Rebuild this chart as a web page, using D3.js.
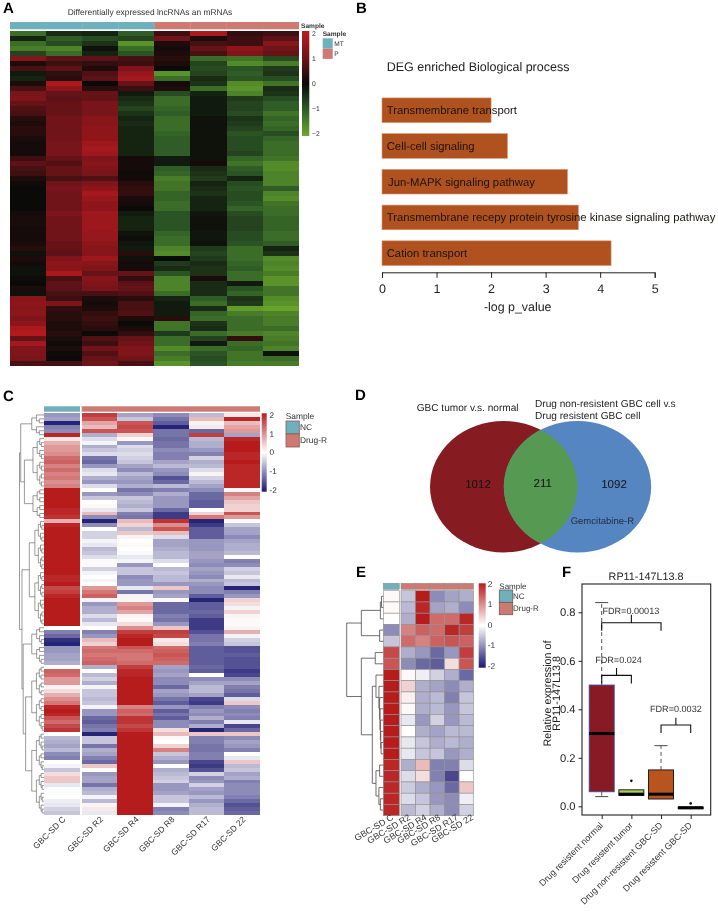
<!DOCTYPE html>
<html><head><meta charset="utf-8"><title>Chart</title>
<style>html,body{margin:0;padding:0;background:#fff}svg{display:block;filter:blur(0.3px)}text{font-family:"Liberation Sans",Arial,sans-serif;text-rendering:geometricPrecision}</style>
<script src="https://cdn.jsdelivr.net/npm/d3@7"></script></head><body>
<svg id="c" width="718" height="911"></svg>
<script>
// ---------- Panel A ----------
const heatA = [
[-1.2,-0.4,-0.3,-1.0,0.5,1.8,0.4,0.5],[-0.3,-1.0,-0.8,-0.7,1.0,0.2,0.5,0.8],[-1.2,-0.8,-0.5,-1.7,0.2,0.6,0.5,1.3],[-1.4,-1.5,-0.1,-1.2,0.1,0.9,1.4,1.0],[-0.7,-1.2,-0.3,-0.9,0.2,0.6,1.2,0.9],
[1.3,0.8,0.8,0.6,0.3,-1.2,-1.3,-0.8],[0.2,0.5,0.4,0.5,0.2,-0.7,-1.6,-1.4],[0.6,0.8,0.2,1.2,0.0,-0.8,-0.9,-0.6],[-0.2,0.4,0.7,1.5,-1.7,-0.7,-1.0,-0.5],[-0.3,0.3,0.8,1.7,-1.2,-0.4,-0.9,-0.8],
[0.2,1.8,0,0.9,0.1,-0.5,-1.6,-1.3],[0.6,1.4,0.3,0.5,0.2,-1.2,-1.7,-0.4],[1.1,0.9,0.9,-0.2,-0.8,-0.3,-1.5,-0.5],[1.2,0.8,0.9,-0.4,-1.2,-0.2,-0.6,-0.8],[0.9,0.9,1.1,-0.5,-1.2,-0.2,-0.7,-1.0],
[0.7,0.9,1.1,-0.7,-1.1,-0.2,-0.7,-1.0],[0.6,0.9,1.1,-0.5,-1.0,-0.2,-0.8,-1.3],[0.3,1.0,1.3,-0.3,-1.2,-0.1,-0.5,-1.1],[0.2,1.0,1.3,-0.4,-1.2,-0.1,-0.6,-1.2],[0.3,1.0,1.4,-0.3,-1.2,-0.1,-0.7,-1.1],
[0.3,1.0,1.4,-0.3,-1.1,-0.1,-0.9,-0.8],[0.15,1.0,1.4,-0.3,-1.0,-0.1,-0.8,-1.1],[0.1,1.1,1.6,-0.3,-1.0,-0.1,-0.8,-1.2],[0.1,1.1,1.7,-0.3,-1.0,-0.1,-0.8,-1.2],[0.1,1.1,1.6,-0.3,-1.0,-0.1,-0.7,-1.2],
[0.5,0.9,1.2,0.1,-0.2,-0.1,-1.1,-1.3],[0.8,0.7,1.3,0.1,-0.2,0.1,-1.3,-1.6],[0.6,0.9,1.2,0.1,-1.0,-0.4,-1.0,-1.6],[0.5,0.9,1.1,0.05,-1.1,-0.5,-0.9,-1.5],[0.2,0.6,0.7,0.1,-1.4,-0.6,-0.3,-1.5],
[0.05,1.0,1.2,0.3,-1.3,-0.3,-0.8,-1.5],[0.0,1.1,1.4,0.4,-1.3,-0.4,-0.9,-1.0],[0.0,1.0,1.7,0.4,-1.1,-0.5,-0.8,-1.5],[0.0,1.0,1.5,0.15,-1.1,-0.3,-0.8,-1.6],[0.0,1.0,1.4,0.1,-1.2,-0.3,-0.9,-1.3],
[0.0,1.0,1.4,0.0,-1.2,-0.3,-1.1,-1.2],[0.1,1.2,1.6,-0.2,-0.9,-0.15,-0.8,-1.2],[0.15,1.0,1.6,-0.3,-0.9,-0.1,-0.7,-1.1],[0.15,1.0,1.6,-0.3,-0.9,-0.1,-0.7,-1.1],[0.1,1.0,1.6,-0.3,-0.9,-0.1,-0.7,-1.1],
[0.1,1.0,1.5,-0.1,-1.1,-0.15,-0.8,-1.2],[0.1,1.0,1.5,-0.05,-1.2,-0.15,-0.8,-1.2],[0.15,0.9,1.4,-0.15,-1.2,-0.1,-0.9,-1.0],[0.3,0.9,1.3,-0.2,-1.5,-0.6,-1.2,-0.3],[-0.1,0.8,1.3,0.3,-1.6,-0.7,-1.2,-0.5],
[0.2,1.2,1.6,-0.1,0.0,-0.6,-1.2,-1.6],[0.1,1.4,1.3,0.1,-0.6,-0.4,-1.1,-1.5],[-0.1,1.3,1.2,0.1,-0.4,-0.5,-1.0,-1.6],[-0.1,1.8,0.9,0.9,-0.9,-0.5,-1.2,-1.4],[0.05,0.6,1.3,0.4,-1.5,0.15,-1.2,-1.7],
[0.0,0.8,1.2,0.8,-1.5,-0.4,-0.2,-1.7],[0.15,0.8,1.1,0.9,-1.5,-0.4,-0.9,-1.3],[-0.1,0.6,0.6,0.7,-1.2,-0.4,-1.1,-1.3],[1.3,0.5,0.2,0.3,-0.3,-1.0,-0.5,-1.6],[1.4,1.2,0.1,0.6,-0.2,-1.2,-0.6,-1.7],
[1.3,0.4,0.2,0.6,-0.2,-0.4,-1.8,-1.9],[1.4,0.3,0.4,0.7,-0.2,-1.1,-1.4,-1.5],[1.2,0.3,0.5,0.2,0.3,-1.2,-1.2,-1.4],[1.4,0.2,0.4,0.0,-1.3,-0.5,-1.2,-1.4],[1.8,0.2,0.3,0.15,-1.3,-0.4,-1.2,-1.2],
[1.9,0.3,0.0,0.4,-0.6,-1.2,-1.4,-1.5],[0.9,0.15,0.7,0.9,-1.2,-0.7,0.4,-1.4],[1.7,0.05,0.5,1.0,-1.2,-0.2,-1.2,-1.3],[1.2,0.15,1.0,1.2,-1.6,-1.2,-1.1,-1.5],[1.2,0.05,0.7,1.2,-1.2,-0.9,-1.3,-0.1],
[1.1,0.0,0.9,1.0,-1.4,-0.8,-1.3,-1.2],[0.6,0.6,1.0,0.6,-1.7,-0.9,-1.4,-1.4]];
const groupsA = ["MT","MT","MT","MT","P","P","P","P"];
const titleA = "Differentially expressed lncRNAs an mRNAs";
const legendTicksA = [2,1,0,-1,-2];

// ---------- Panel B ----------
const termsB = ["Transmembrane transport","Cell-cell signaling","Jun-MAPK signaling pathway","Transmembrane recepy protein tyrosine kinase signaling pathway","Cation transport"];
const valuesB = [2.0,2.3,3.4,3.6,4.2];

// ---------- Panel C ----------
const samplesC = ["GBC-SD C","GBC-SD R2","GBC-SD R4","GBC-SD R8","GBC-SD R17","GBC-SD 22"];
const heatC = [
[-0.9,1.7,-0.8,-1.0,-0.6,0.2],[-0.8,1.5,-0.5,-1.2,0.6,1.9],[-1.9,0.8,1.5,-1.4,-0.1,0.6],[-1.1,0.6,1.6,-1.9,0.2,0.8],[-1.0,1.5,1.5,-1.2,-1.3,0.9],[1.9,-0.7,0.4,-1.2,1.7,-0.8],
[0.2,-0.3,0.05,-1.3,-0.6,1.9],[0.7,-0.1,-0.9,-1.2,-0.7,2],[0.9,-0.7,-0.3,-1.2,-0.7,2],[0.9,-0.5,-0.4,-1.0,-0.9,2],[1.0,-0.3,-0.3,-1.1,-1.1,1.9],[1.3,-1.2,-0.4,-1.1,-0.4,1.9],[1.4,-1.3,-0.5,-0.8,-0.7,2],[1.1,-0.9,-0.8,-0.6,-0.6,1.9],[1.3,-0.3,-1.0,-0.9,-0.3,1.9],[1.1,-0.2,-0.6,-1.0,0.1,1.9],[1.2,-0.7,-0.8,-1.5,-0.4,1.9],[1.0,-0.9,-0.9,-1.3,-0.6,1.9],[1.1,-0.3,-0.7,-0.6,-0.8,1.9],
[2,0.0,-1.2,-1.1,-1.0,0.05],[2,-0.9,-1.0,-0.7,-1.3,1.1],[2,-0.5,-0.5,-0.9,-1.3,0.8],[2,0.0,-0.6,-0.9,-1.4,0.5],[2,0.05,-0.7,-0.9,-1.4,0.4],[1.9,-0.2,-0.5,-1.3,0.0,0.4],[1.9,0.6,-1.1,-1.7,0.4,1.5],[1.8,-1.0,-1.2,-1.7,1.2,0.9],
[0.7,-1.9,0.6,1.8,-1.9,0.0],[1.9,-1.0,0.4,1.0,-1.7,-0.5],[2,0.0,-0.6,1.5,-1.4,-0.8],[2,-0.4,0.5,0.6,-1.4,-0.8],[2,-0.4,0.1,-0.3,-1.4,-1.0],[2,-0.1,0.0,-0.8,-0.9,-0.8],[2,-0.2,0.05,-0.8,-0.9,-0.7],[2,-0.6,0.0,-0.7,-0.9,-0.7],[2,-0.5,-0.05,-0.6,-0.8,-0.6],[2,-0.3,-0.2,-0.6,-0.8,0.0],[2,0.05,-0.1,-0.3,-0.9,-1.1],[2,-0.05,-0.9,0.0,-1.0,-1.0],[2,-0.4,-0.5,-0.6,-0.8,-0.4],[2,-0.1,-0.5,-0.5,-0.9,-0.5],[1.9,0.0,-1.0,-0.6,-1.0,-0.2],[1.9,-0.1,-0.9,-0.6,-0.7,-0.6],[2,0.0,-0.9,-0.9,-0.9,-0.5],[1.6,0.9,-0.2,0.5,-1.0,-1.9],[1.7,1.2,-1.2,-0.9,-1.0,-1.1],[1.9,1.4,-0.1,-0.8,-1.4,-0.9],[2,-0.1,0.1,0.05,-1.9,0.4],[2,-0.9,0.9,-1.3,-1.4,0.3],[2,-0.7,1.1,-1.3,-1.4,-0.1],[2,-0.7,0.8,-1.3,-1.3,0.4],[2,-0.3,0.1,-1.1,-1.4,0.1],[2,-0.6,0.05,-1.2,-1.7,0.05],[2,-0.2,0.3,-0.9,-1.7,0.05],
[0.0,0.0,1.0,0.5,-1.7,0.1],[-1.1,-1.1,1.7,1.7,-1.5,0.7],[-1.3,-0.9,1.9,1.6,-1.2,-0.1],[-1.8,0.6,2,0.2,-1.2,-0.4],[-1.9,0.4,2,0.3,-1.1,-0.5],
[-0.9,1.2,1.5,1.3,-1.4,-1.5],[-0.9,1.3,1.3,1.4,-1.4,-1.5],[-0.8,1.2,1.2,1.5,-1.4,-1.4],[-0.8,1.3,1.2,1.4,-1.4,-1.5],[-0.7,1.4,1.3,1.3,-1.4,-1.5],
[0.0,-0.7,1.7,-0.8,-1.3,-1.5],[1.4,0.0,1.9,-0.9,-1.4,-1.7],[1.3,-0.6,1.9,-0.8,0.0,-1.6],[0.9,-0.4,2,-1.0,-1.0,-1.0],[0.9,-0.7,2,-1.0,-0.8,-0.8],[0.1,-0.1,2,-1.3,-0.6,-1.1],[0.3,-0.5,2,-0.8,-0.6,-1.2],[0.7,-0.5,2,-0.9,-0.8,-1.4],[1.0,-0.6,2,-1.2,-1.6,-0.3],[1.2,-0.5,2,-1.4,-1.7,0.5],[1.9,-0.1,1.1,-0.9,-1.1,-1.0],[2,-0.9,1.4,-1.4,-0.9,-1.1],[1.9,-0.9,1.3,-1.2,-1.0,-1.0],[1.5,-1.3,1.8,-1.4,-0.7,-1.1],[1.3,-1.4,1.8,-1.0,-1.1,-0.2],[1.6,-1.2,1.6,-1.0,-0.7,-1.6],[1.8,-1.1,1.8,0.3,-1.9,-1.3],
[0.0,-1.9,2,0.6,0.5,0.5],[-0.6,-0.5,2,0.05,-1.1,-1.0],[-0.7,-0.5,2,0.0,-1.1,-0.8],[-0.8,-1.2,2,0.4,-1.2,-0.9],[-0.6,-0.7,2,1.1,-1.2,-1.1],[-1.0,-0.8,2,-0.5,-1.1,0.0],[-1.1,-1.1,2,-0.7,-1.1,-0.2],[0.0,-1.3,2,-0.9,-1.6,0.5],[-0.1,0.5,2,0.0,-1.7,-0.6],[-0.5,0.0,2,-0.7,-1.5,-0.5],[0.3,-0.9,2,-0.6,-0.4,-0.8],[0.5,-0.8,2,-0.5,-1.0,-0.7],[0.5,-0.8,2,-0.4,-0.9,-1.1],[-0.2,-1.2,2,-0.9,-0.4,-1.0],[-0.03,-0.7,2,-0.9,-0.8,-1.0],[-0.03,-0.6,2,-0.8,-0.9,-1.0],[0.0,-0.1,2,-0.5,-0.6,-1.1],[-0.15,-0.6,2,-0.5,-0.9,-1.3],[-0.2,0.1,2,-0.1,-0.7,-1.5],[-0.4,0.2,2,-1.1,-0.6,-1.4],[-0.5,-0.2,2,-1.0,-0.6,-1.3]];
// merge tree: [height, child, child]; a bare number n is a cluster of n leaves
const treeC = [1,
  [0.95,[0.5,6],[0.8,[0.45,13],[0.45,8]]],
  [0.9,[0.6,27],[0.85,[0.5,[0.3,5],[0.3,5]],[0.75,[0.5,17],[0.5,21]]]]];
const legendTicksC = [2,1,0,-1,-2];

// ---------- Panel D ----------
const vennSets = ["GBC tumor v.s. normal","Drug non-resistent GBC cell v.s","Drug resistent GBC cell"];
const vennCounts = [1012,211,1092];

// ---------- Panel E ----------
const heatE = [
[0.05,-0.5,2,-1.0,-0.8,-0.7],[0.05,-0.6,1.9,-0.8,-0.7,-1.0],[0.02,-0.7,2,1.3,1.3,1.9],[-1.0,1.1,1.4,1.3,1.9,1.7],[-0.5,1.3,1.1,1.4,1.5,1.4],
[1.6,-0.7,-0.9,-1.3,-0.9,1.7],[1.5,-1.0,-1.3,-1.4,0.3,1.5],[2,0.05,-0.15,-0.4,-0.7,-1.3],[2,0.4,-0.7,-0.8,-1.0,-0.7],[2,0.15,-0.7,-0.6,-1.1,-0.5],
[2,0.05,-0.7,-0.6,-0.9,-0.5],[2,-0.2,-0.9,-0.4,-0.9,-0.6],[2,0.0,-0.7,-0.8,-0.6,-0.6],[2,-0.2,-0.5,-0.7,-0.6,-0.7],[2,-0.2,-0.5,-0.5,-0.9,-0.7],
[1.9,-0.7,0.6,-1.1,-1.1,-0.3],[1.9,-0.3,0.3,-1.1,-1.6,0.02],[1.9,-0.45,-0.7,-0.9,-1.3,0.5],[1.9,-0.3,-0.5,-0.9,-1.0,-0.15],[1.9,-0.6,-0.4,-0.7,-1.0,-0.4]];
const treeE = [1,
  [0.6,[0.08,[0.05,0,1],2],[0.1,3,4]],
  [0.6,[0.22,5,6],[0.3,[0.2,7,[0.12,8,[0.1,9,[0.09,10,[0.08,11,[0.07,12,[0.06,13,14]]]]]]],[0.2,[0.1,15,16],[0.12,17,[0.08,18,19]]]]]];
const legendTicksE = [2,1,0,-1,-2];

// ---------- Panel F ----------
const boxCats = ["Drug resistent normal","Drug resistent tumor","Drug non-resistent GBC-SD","Drug resistent GBC-SD"];
const boxMin = [0.04,0.045,0.03,-0.012];
const boxQ1 = [0.06,0.045,0.03,-0.01];
const boxMed = [0.30,0.05,0.05,-0.006];
const boxQ3 = [0.50,0.068,0.15,-0.003];
const boxMax = [0.84,0.068,0.25,-0.002];
const boxOut = [null,0.105,null,0.012];
const boxFill = ["#871a24","#a6d25a","#b9541f","#222222"];
const boxStroke = ["#3c4c9c","#111111","#111111","#111111"];
const fdrLabels = ["FDR=0.00013","FDR=0.024","FDR=0.0032"];
const fdrFrom = [0,0,2], fdrTo = [2,1,3], fdrValue = [0.757,0.54,0.335], fdrDrop = [0.033,0.034,0.033], fdrStem = [0.033,0.03,0.03], fdrText=[0.808,0.605,0.40];

// ---------- drawing ----------
const svg = d3.select("#c");
const teal = "#6fb0bd", rose = "#cd7a72";
const greenRed = d3.scaleLinear().domain([-2,-1,0,1,2]).range(["#6dab2b","#2f5c27","#0a0a08","#701419","#bb1a1e"]).clamp(true);
const blueRed = d3.scaleLinear().domain([-2,0,2]).range(["#1b1870","#ffffff","#b71c1c"]).clamp(true);

function label(txt,x,y){svg.append("text").attr("x",x).attr("y",y).attr("font-size",15).attr("font-weight","bold").attr("fill","#000").text(txt);}
[["A",3,13],["B",356,13],["C",3,401],["D",355,400],["E",356,577],["F",562,577]].forEach(d=>label(...d));

let gradId=0;
function colorbar(color,ticks,x,w,y0,y1,scaleRange,fs,lx,minus){
  const y=d3.scaleLinear().domain([-2,2]).range(scaleRange);
  const id="g"+(gradId++);
  const g=svg.append("defs").append("linearGradient").attr("id",id).attr("x1",0).attr("x2",0).attr("y1",1).attr("y2",0);
  d3.range(0,21).forEach(i=>{const v=-2+i/5;g.append("stop").attr("offset",i/20).attr("stop-color",color(v));});
  svg.append("rect").attr("x",x).attr("y",y0).attr("width",w).attr("height",y1-y0).attr("fill",`url(#${id})`);
  svg.append("g").selectAll("text").data(ticks).join("text").attr("x",lx).attr("y",d=>y(d)).attr("dy","0.35em").attr("font-size",fs).attr("fill","#333")
    .text(d=>d<0&&minus?"\u2212"+(-d):d);
}
function legend(title,names,colors,tx,ty,sx,sy,sw,sh,lx,fs,bold,stroke){
  svg.append("text").attr("x",tx).attr("y",ty).attr("dy","0.35em").attr("font-size",fs).attr("font-weight",bold?"bold":"normal").attr("fill","#333").text(title);
  names.forEach((n,i)=>{
    svg.append("rect").attr("x",sx).attr("y",sy+i*sh).attr("width",sw).attr("height",sh).attr("fill",colors[i]).attr("stroke",stroke||"none").attr("stroke-width",stroke?0.8:0);
    svg.append("text").attr("x",lx).attr("y",sy+i*sh+sh/2).attr("dy","0.35em").attr("font-size",fs).attr("fill","#333").text(n);
  });
}
function heat(data,xs,widths,y,color){
  const g=svg.append("g").attr("shape-rendering","crispEdges");
  data.forEach((row,i)=>row.forEach((v,j)=>{
    g.append("rect").attr("x",xs[j]).attr("y",y(i)).attr("width",widths[j]).attr("height",y.bandwidth()+0.4).attr("fill",color(v));
  }));
}
function expand(n,h){ // a cluster of n leaves as a balanced merge
  if(n===1) return {leaf:true};
  const a=Math.floor(n/2);
  return {h,children:[expand(a,h*0.62),expand(n-a,h*0.62)]};
}
function toNode(t){
  if(typeof t==="number") return {leaf:true,id:t};
  const h=t[0];
  if(t.length===2 && typeof t[1]==="number") return expand(t[1],h);
  return {h,children:t.slice(1).map(toNode)};
}
function dendro(tree,leafCount,yBand,xOf,color,width){
  const root=d3.hierarchy(toNode(tree));
  let k=0;
  root.eachAfter(n=>{
    if(!n.children){n.py=yBand(k++);n.px=xOf(0);}
    else{n.py=d3.mean(n.children,c=>c.py);n.px=xOf(n.data.h);}
  });
  const line=svg.append("g").attr("fill","none").attr("stroke",color).attr("stroke-width",width);
  root.each(n=>{
    if(!n.children)return;
    const y0=n.children[0].py,y1=n.children[n.children.length-1].py;
    line.append("path").attr("d",`M${n.children[0].px},${y0}H${n.px}V${y1}H${n.children[n.children.length-1].px}`);
  });
}

// A
{
  const x=d3.scaleBand().domain(d3.range(8)).range([10,298.7]);
  const y=d3.scaleBand().domain(d3.range(heatA.length)).range([31,366]);
  svg.append("text").attr("x",150).attr("y",14.5).attr("text-anchor","middle").attr("font-size",8.4).attr("fill","#333").text(titleA);
  groupsA.forEach((g,i)=>svg.append("rect").attr("x",x(i)).attr("y",22).attr("width",x.bandwidth()+.3).attr("height",7.3).attr("fill",g==="MT"?teal:rose));
  heat(heatA,x.domain().map(x),x.domain().map(()=>x.bandwidth()+.3),y,greenRed);
  svg.append("text").attr("x",301).attr("y",28).attr("font-size",6.6).attr("font-weight","bold").attr("fill","#333").text("Sample");
  colorbar(greenRed,legendTicksA,302,7.3,31,136,[134,33.3],6.8,312,true);
  legend("Sample",["MT","P"],[teal,rose],322.7,33.7,322.7,38.3,10,10.3,334.3,6.6,true);
}
// B
{
  const x=d3.scaleLinear().domain([0,5]).range([382,654.7]);
  const y=d3.scaleBand().domain(termsB).range([92.2,271.2]).paddingInner(0.31).paddingOuter(0.16);
  svg.append("text").attr("x",386.7).attr("y",71).attr("font-size",12.5).attr("fill","#222").text("DEG enriched Biological process");
  svg.append("g").selectAll("rect").data(termsB).join("rect").attr("x",x(0)).attr("y",d=>y(d)).attr("width",(d,i)=>x(valuesB[i])-x(0)).attr("height",y.bandwidth())
    .attr("fill","#b0521f").attr("stroke","#d9946d").attr("stroke-width",0.6);
  svg.append("g").selectAll("text").data(termsB).join("text").attr("x",(d,i)=>i===2?388:386.7).attr("y",d=>y(d)+y.bandwidth()/2).attr("dy","0.35em").attr("font-size",11.3).attr("fill","#1a1410").text(d=>d);
  const ax=svg.append("g").attr("transform","translate(0,272.3)").call(d3.axisBottom(x).ticks(5).tickSize(5.5).tickFormat(d3.format("d")));
  ax.selectAll("text").attr("font-size",12.5).attr("fill","#222").attr("dy","0.95em");
  ax.selectAll("line,path").attr("stroke","#222");
  svg.append("text").attr("x",517.7).attr("y",311).attr("text-anchor","middle").attr("font-size",12.4).attr("fill","#222").text("-log p_value");
}
// C
{
  const x=[44,81.7,117.4,153.2,188.8,224.4], w=[36,35.7,35.8,35.6,35.6,35.6];
  const y=d3.scaleBand().domain(d3.range(heatC.length)).range([413,815]);
  svg.append("rect").attr("x",44).attr("y",406.3).attr("width",36).attr("height",5.4).attr("fill",teal);
  svg.append("rect").attr("x",81.7).attr("y",406.3).attr("width",178.3).attr("height",5.4).attr("fill",rose);
  heat(heatC,x,w,y,blueRed);
  const bandC=d3.scaleLinear().domain([0,heatC.length-1]).range([y(0)+y.bandwidth()/2,y(heatC.length-1)+y.bandwidth()/2]);
  const hx=d3.scaleLinear().domain([0,1]).range([44,19.5]);
  dendro(treeC,heatC.length,bandC,hx,"#555",0.6);
  samplesC.forEach((s,i)=>svg.append("text").attr("transform",`translate(${x[i]+w[i]/2+4},820) rotate(-45)`).attr("text-anchor","end").attr("font-size",8.5).attr("fill","#333").text(s));
  colorbar(blueRed,legendTicksC,261.7,5,413.3,491.7,[490,415],8.2,269.5,false);
  legend("Sample",["NC","Drug-R"],[teal,rose],285.7,416,286,421,13.3,13,300,8.4,false,"#8a5a55");
}
// D
{
  const pos=[{cx:503.7,cy:486.7},{cx:577.5,cy:486.7}];
  const rx=73.7,ry=65.7;
  svg.append("defs").append("clipPath").attr("id","vennClip").append("ellipse").attr("cx",pos[0].cx).attr("cy",pos[0].cy).attr("rx",rx).attr("ry",ry);
  svg.append("ellipse").attr("cx",pos[0].cx).attr("cy",pos[0].cy).attr("rx",rx).attr("ry",ry).attr("fill","#861c22");
  svg.append("ellipse").attr("cx",pos[1].cx).attr("cy",pos[1].cy).attr("rx",rx).attr("ry",ry).attr("fill","#5686c2");
  svg.append("ellipse").attr("cx",pos[1].cx).attr("cy",pos[1].cy).attr("rx",rx).attr("ry",ry).attr("fill","#559953").attr("clip-path","url(#vennClip)");
  [[416.7,410.7],[535,406.7],[535,418.7]].forEach((p,i)=>svg.append("text").attr("x",p[0]).attr("y",p[1]).attr("font-size",10.1).attr("fill","#222").text(vennSets[i]));
  [[478,484],[542.7,482.7],[614,484]].forEach((p,i)=>svg.append("text").attr("x",p[0]).attr("y",p[1]).attr("dy","0.35em").attr("text-anchor","middle").attr("font-size",11.5).attr("fill","#111").text(vennCounts[i]));
  svg.append("text").attr("x",570.7).attr("y",520.7).attr("dy","0.35em").attr("font-size",9.5).attr("fill","#1f2a44").text("Gemcitabine-R");
}
// E
{
  const cw=14.53;
  const x=[383.3,401,401+cw,401+2*cw,401+3*cw,401+4*cw], w=[16,cw,cw,cw,cw,cw];
  const y=d3.scaleBand().domain(d3.range(heatE.length)).range([590.7,815.7]);
  svg.append("rect").attr("x",383.3).attr("y",583.3).attr("width",16).attr("height",6).attr("fill",teal).attr("stroke","#888").attr("stroke-width",.5);
  d3.range(1,6).forEach(i=>svg.append("rect").attr("x",x[i]).attr("y",583.3).attr("width",cw).attr("height",6).attr("fill",rose).attr("stroke","#888").attr("stroke-width",.5));
  const g=svg.append("g");
  heatE.forEach((row,i)=>row.forEach((v,j)=>g.append("rect").attr("x",x[j]).attr("y",y(i)).attr("width",w[j]).attr("height",y.bandwidth()).attr("fill",blueRed(v)).attr("stroke","#8f8f8f").attr("stroke-width",.6)));
  const hx=d3.scaleLinear().domain([0,1]).range([383.3,346.7]);
  const band=i=>y(i)+y.bandwidth()/2;
  dendro(treeE,heatE.length,band,hx,"#4a4a4a",0.8);
  samplesC.forEach((s,i)=>{const ex=[394,411,427.3,441,458.7,474][i];
    svg.append("text").attr("transform",`translate(${ex},819) rotate(-31)`).attr("text-anchor","end").attr("font-size",8.9).attr("fill","#333").text(s);});
  colorbar(blueRed,legendTicksE,478.7,7,583.3,667.7,[666,584],8.4,487.7,false);
  legend("Sample",["NC","Drug-R"],[teal,rose],499.3,585.7,499.3,590,13.4,12.35,513,8,false,"#6b5a58");
}
// F
{
  const y=d3.scaleLinear().domain([0,0.8]).range([806.3,612.3]);
  const x=d3.scalePoint().domain(boxCats).range([601.7,690.7]);
  const bw=25,cap=6.5;
  svg.append("text").attr("x",646).attr("y",580).attr("text-anchor","middle").attr("font-size",10.8).attr("fill","#222").text("RP11-147L13.8");
  svg.append("rect").attr("x",582).attr("y",584).attr("width",128.7).attr("height",231).attr("fill","none").attr("stroke","#222").attr("stroke-width",1.1);
  const ya=svg.append("g").attr("transform","translate(582,0)").call(d3.axisLeft(y).tickValues([0,0.2,0.4,0.6,0.8]).tickSize(3.5).tickFormat(d3.format(".1f")));
  ya.select(".domain").remove(); ya.selectAll("line").attr("stroke","#222");
  ya.selectAll("text").attr("font-size",11.2).attr("fill","#222");
  const xa=svg.append("g").attr("transform","translate(0,815)").call(d3.axisBottom(x).tickSize(4).tickFormat(()=>""));
  xa.select(".domain").remove(); xa.selectAll("line").attr("stroke","#222");
  boxCats.forEach((c,i)=>{
    const cx=x(c);
    const g=svg.append("g");
    g.append("line").attr("x1",cx).attr("x2",cx).attr("y1",y(boxQ3[i])).attr("y2",y(boxMax[i])).attr("stroke","#444").attr("stroke-dasharray","4,3").attr("stroke-width",.9);
    g.append("line").attr("x1",cx).attr("x2",cx).attr("y1",y(boxQ1[i])).attr("y2",y(boxMin[i])).attr("stroke","#444").attr("stroke-dasharray","4,3").attr("stroke-width",.9);
    if(i===0||i===2){
      g.append("line").attr("x1",cx-cap).attr("x2",cx+cap).attr("y1",y(boxMax[i])).attr("y2",y(boxMax[i])).attr("stroke","#333").attr("stroke-width",.9);
    }
    if(i===0){g.append("line").attr("x1",cx-cap).attr("x2",cx+cap).attr("y1",y(boxMin[i])).attr("y2",y(boxMin[i])).attr("stroke","#333").attr("stroke-width",.9);}
    g.append("rect").attr("x",cx-bw/2).attr("y",y(boxQ3[i])).attr("width",bw).attr("height",y(boxQ1[i])-y(boxQ3[i])).attr("fill",boxFill[i]).attr("stroke",boxStroke[i]).attr("stroke-width",.9);
    g.append("line").attr("x1",cx-bw/2).attr("x2",cx+bw/2).attr("y1",y(boxMed[i])).attr("y2",y(boxMed[i])).attr("stroke","#000").attr("stroke-width",3);
    if(boxOut[i]!==null) g.append("circle").attr("cx",cx).attr("cy",y(boxOut[i])).attr("r",1.3).attr("fill","#111");
    svg.append("text").attr("transform",`translate(${cx+2},826) rotate(-45)`).attr("text-anchor","end").attr("font-size",9).attr("fill","#333").text(c);
  });
  fdrLabels.forEach((t,i)=>{
    const a=x(boxCats[fdrFrom[i]]),b=x(boxCats[fdrTo[i]]),m=(a+b)/2, v=fdrValue[i];
    svg.append("path").attr("fill","none").attr("stroke","#111").attr("stroke-width",1.1)
      .attr("d",`M${a},${y(v-fdrDrop[i])}V${y(v)}H${b}V${y(v-fdrDrop[i])}M${m},${y(v)}V${y(v+fdrStem[i])}`);
    svg.append("text").attr("x",m+(i===0?-0.5:i===1?2:0)).attr("y",y(fdrText[i])).attr("dy","0.35em").attr("text-anchor","middle").attr("font-size",9.1).attr("fill","#333").text(t);
  });
  [["Relative expression of",547],["RP11-147L13.8",556]].forEach(d=>svg.append("text").attr("transform",`translate(${d[1]+3.5},693.5) rotate(-90)`).attr("text-anchor","middle").attr("font-size",10.8).attr("fill","#222").text(d[0]));
}
</script></body></html>
